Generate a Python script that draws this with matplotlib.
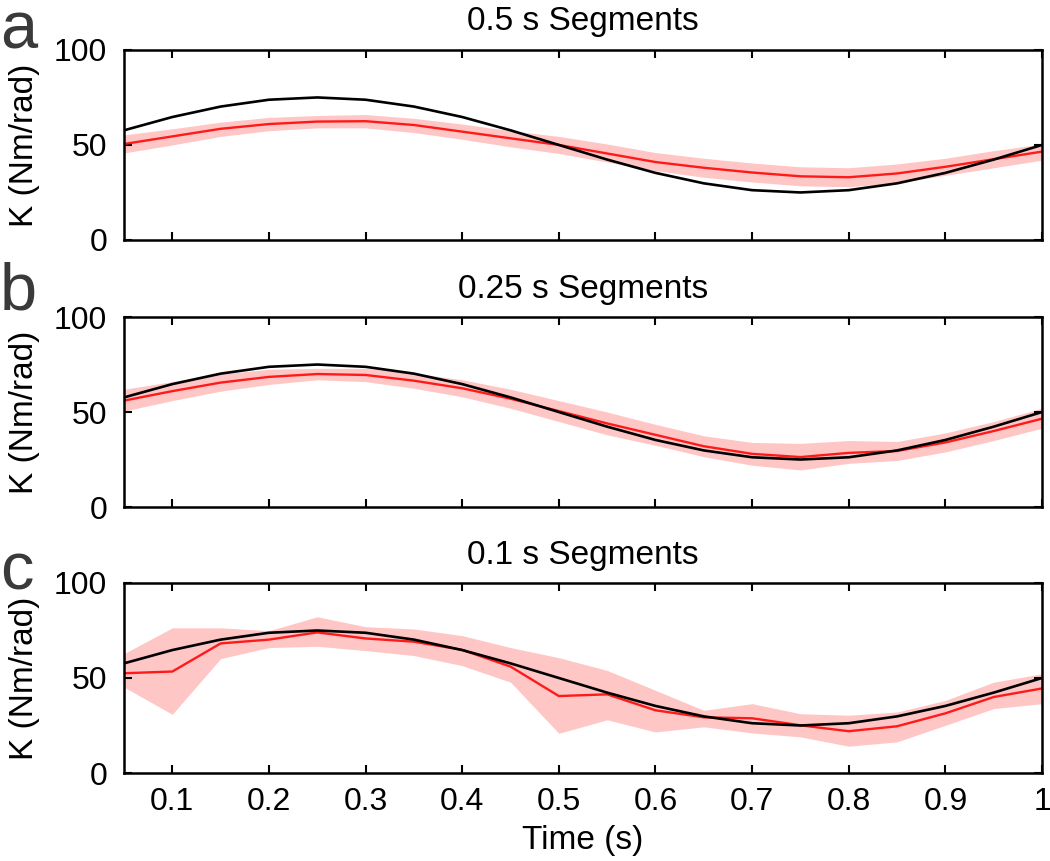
import numpy as np
import matplotlib
matplotlib.use("Agg")
import matplotlib.pyplot as plt

plt.rcParams['font.family'] = ['Liberation Sans', 'DejaVu Sans']

# time points (s)
t = [0.05, 0.10, 0.15, 0.20, 0.25, 0.30, 0.35, 0.40, 0.45, 0.50,
     0.55, 0.60, 0.65, 0.70, 0.75, 0.80, 0.85, 0.90, 0.95, 1.00]

# true stiffness (black)
k_true = [57.7, 64.7, 70.2, 73.8, 75.0, 73.8, 70.2, 64.7, 57.7, 50.0,
          42.3, 35.3, 29.8, 26.2, 25.0, 26.2, 29.8, 35.3, 42.3, 50.0]

# 0.5 s segments
k_a = [50.5, 54.5, 58.5, 61.0, 62.3, 62.5, 60.5, 57.0, 53.5, 50.0,
       45.5, 41.0, 38.0, 35.5, 33.5, 33.0, 35.0, 38.5, 42.5, 46.5]
lo_a = [45.8, 50.0, 54.5, 57.5, 59.0, 59.0, 56.5, 53.0, 49.0, 45.5,
        41.0, 36.5, 33.0, 30.5, 28.5, 28.0, 30.0, 34.0, 38.0, 42.0]
hi_a = [55.3, 58.5, 62.0, 64.5, 65.5, 66.0, 64.0, 61.0, 57.5, 54.5,
        50.5, 46.0, 43.0, 40.5, 38.5, 38.0, 40.0, 43.0, 47.0, 50.5]

# 0.25 s segments
k_b = [56.0, 61.0, 65.5, 68.5, 70.0, 69.5, 66.5, 62.5, 57.0, 50.5,
       44.0, 38.0, 32.0, 28.0, 26.3, 28.5, 29.5, 34.0, 40.0, 46.5]
lo_b = [50.5, 56.0, 61.0, 64.5, 67.0, 66.0, 62.5, 58.0, 52.0, 45.0,
        38.0, 32.5, 26.5, 22.0, 19.5, 23.0, 24.5, 29.0, 35.0, 41.5]
hi_b = [62.0, 66.0, 70.0, 72.5, 73.0, 73.0, 70.5, 67.0, 62.0, 56.0,
        50.0, 43.5, 37.5, 34.0, 33.5, 35.0, 34.5, 39.0, 45.0, 52.0]

# 0.1 s segments
k_c = [52.5, 53.4, 68.2, 70.2, 74.0, 70.8, 69.1, 64.8, 56.0, 40.5,
       41.4, 33.0, 29.3, 28.8, 25.1, 22.0, 24.6, 31.4, 40.0, 44.5]
lo_c = [45.2, 30.9, 60.2, 66.0, 66.7, 64.4, 61.8, 56.5, 47.8, 20.9,
        28.0, 21.6, 24.3, 21.1, 19.0, 14.1, 16.4, 25.1, 33.9, 36.5]
hi_c = [62.8, 76.4, 76.4, 74.9, 82.2, 77.0, 75.8, 72.3, 66.0, 60.7,
        54.0, 43.5, 33.0, 36.5, 31.2, 30.4, 32.1, 38.2, 47.8, 52.2]

titles = ['0.5 s Segments', '0.25 s Segments', '0.1 s Segments']
letters = ['a', 'b', 'c']
red_vals = [k_a, k_b, k_c]
lows = [lo_a, lo_b, lo_c]
highs = [hi_a, hi_b, hi_c]

fig = plt.figure(figsize=(10.5, 8.61), dpi=100)

# axes positions [left, bottom, width, height] in figure fractions
boxes = [[0.1181, 0.7213, 0.8743, 0.2207],
         [0.1181, 0.4111, 0.8743, 0.2207],
         [0.1181, 0.1022, 0.8743, 0.2207]]
letter_y = [0.999, 0.696, 0.371]

for i in range(3):
    ax = fig.add_axes(boxes[i])
    ax.fill_between(t, lows[i], highs[i], color='#ffc6c6', lw=0, zorder=1)
    ax.plot(t, red_vals[i], color='#ff1a1a', lw=1.7, zorder=2)
    ax.plot(t, k_true, color='black', lw=1.9, zorder=3)

    ax.set_xlim(0.05, 1.0)
    ax.set_ylim(0, 100)
    ax.set_yticks([0, 50, 100])
    ax.set_xticks([0.1, 0.2, 0.3, 0.4, 0.5, 0.6, 0.7, 0.8, 0.9, 1.0])
    ax.tick_params(axis='both', direction='in', top=True, right=True,
                   length=6, width=1.5, labelsize=23)
    ax.tick_params(axis='y', pad=12)
    ax.tick_params(axis='x', pad=10)
    for sp in ax.spines.values():
        sp.set_linewidth(1.8)

    if i < 2:
        ax.set_xticklabels([])
    else:
        ax.set_xticklabels(['0.1', '0.2', '0.3', '0.4', '0.5', '0.6', '0.7', '0.8', '0.9', '1'])
        ax.set_xlabel('Time (s)', fontsize=24, labelpad=6)

    ax.set_ylabel('K (Nm/rad)', fontsize=24, labelpad=10)
    ax.set_title(titles[i], fontsize=24, pad=14)

    fig.text(0.0, letter_y[i], letters[i], fontsize=48, color='#3a3a3a',
             ha='left', va='top')

fig.savefig('out.png', dpi=100)
